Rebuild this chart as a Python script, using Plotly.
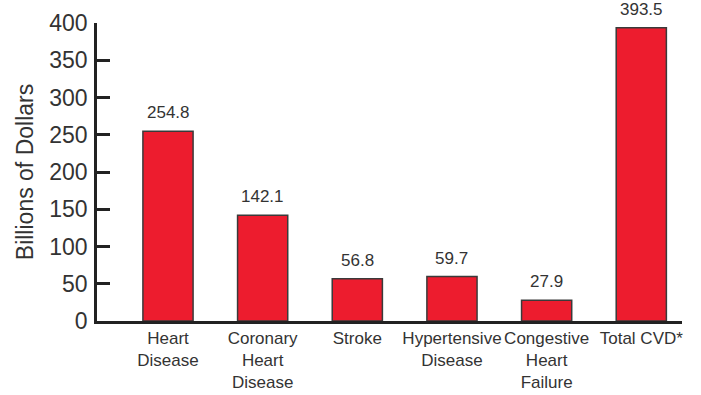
import plotly.graph_objects as go

categories = ["Heart<br>Disease", "Coronary<br>Heart<br>Disease", "Stroke",
              "Hypertensive<br>Disease", "Congestive<br>Heart<br>Failure", "Total CVD*"]
costs = [254.8, 142.1, 56.8, 59.7, 27.9, 393.5]
y_ticks = [0, 50, 100, 150, 200, 250, 300, 350, 400]

ink = "#333333"
bar_red = "#ED1C2E"

fig = go.Figure(go.Bar(
    x=categories,
    y=costs,
    width=0.53,
    marker=dict(color=bar_red, line=dict(color="#3a3a3a", width=1.5)),
))

# value labels sit a little above each bar top
for cat, val in zip(categories, costs):
    fig.add_annotation(
        x=cat, y=val, text=f"{val:.1f}",
        showarrow=False, yanchor="bottom", yshift=7,
        font=dict(family="Liberation Sans, Arial", size=17, color=ink),
    )

fig.update_layout(
    width=701, height=395,
    margin=dict(l=97, r=19, t=23, b=74, autoexpand=False),
    plot_bgcolor="white", paper_bgcolor="white",
    showlegend=False,
)

fig.update_yaxes(
    range=[0, 400],
    tickvals=y_ticks,
    ticks="inside", ticklen=13, tickwidth=2.5, tickcolor="#222222",
    showline=True, linewidth=2.5, linecolor="#222222",
    showgrid=False, zeroline=False,
    automargin=False,
    ticklabelstandoff=2,
    tickfont=dict(family="Liberation Sans, Arial", size=23, color=ink),
    title=dict(text="Billions of Dollars", standoff=10,
               font=dict(family="Liberation Sans, Arial", size=23, color=ink)),
)

fig.update_xaxes(
    range=[-0.75, 5.43],
    showline=True, linewidth=2.5, linecolor="#222222",
    ticks="", showgrid=False,
    automargin=False, tickangle=0,
    tickfont=dict(family="Liberation Sans, Arial", size=17, color=ink),
)

fig.write_html("out.html")
